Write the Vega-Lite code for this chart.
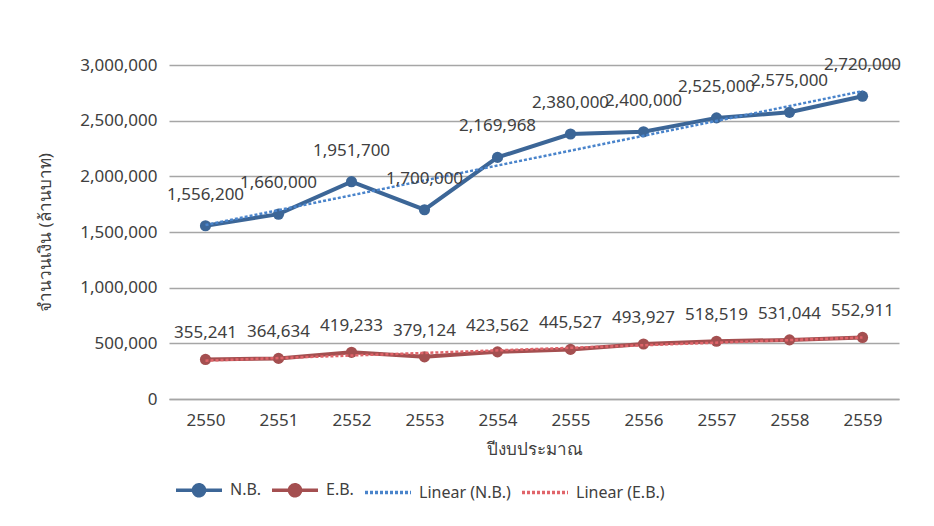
{
  "$schema": "https://vega.github.io/schema/vega-lite/v6.json",
  "width": 730,
  "height": 334,
  "autosize": "none",
  "padding": {"left": 169, "top": 65, "right": 35, "bottom": 127},
  "background": "white",
  "config": {
    "view": {"stroke": null},
    "font": "Noto Sans",
    "text": {"font": "Noto Sans"}
  },
  "data": {
    "values": [
      {"year": 2550, "series": "N.B.", "trend": "Linear (N.B.)", "value": 1556200},
      {"year": 2551, "series": "N.B.", "trend": "Linear (N.B.)", "value": 1660000},
      {"year": 2552, "series": "N.B.", "trend": "Linear (N.B.)", "value": 1951700},
      {"year": 2553, "series": "N.B.", "trend": "Linear (N.B.)", "value": 1700000},
      {"year": 2554, "series": "N.B.", "trend": "Linear (N.B.)", "value": 2169968},
      {"year": 2555, "series": "N.B.", "trend": "Linear (N.B.)", "value": 2380000},
      {"year": 2556, "series": "N.B.", "trend": "Linear (N.B.)", "value": 2400000},
      {"year": 2557, "series": "N.B.", "trend": "Linear (N.B.)", "value": 2525000},
      {"year": 2558, "series": "N.B.", "trend": "Linear (N.B.)", "value": 2575000},
      {"year": 2559, "series": "N.B.", "trend": "Linear (N.B.)", "value": 2720000},
      {"year": 2550, "series": "E.B.", "trend": "Linear (E.B.)", "value": 355241},
      {"year": 2551, "series": "E.B.", "trend": "Linear (E.B.)", "value": 364634},
      {"year": 2552, "series": "E.B.", "trend": "Linear (E.B.)", "value": 419233},
      {"year": 2553, "series": "E.B.", "trend": "Linear (E.B.)", "value": 379124},
      {"year": 2554, "series": "E.B.", "trend": "Linear (E.B.)", "value": 423562},
      {"year": 2555, "series": "E.B.", "trend": "Linear (E.B.)", "value": 445527},
      {"year": 2556, "series": "E.B.", "trend": "Linear (E.B.)", "value": 493927},
      {"year": 2557, "series": "E.B.", "trend": "Linear (E.B.)", "value": 518519},
      {"year": 2558, "series": "E.B.", "trend": "Linear (E.B.)", "value": 531044},
      {"year": 2559, "series": "E.B.", "trend": "Linear (E.B.)", "value": 552911}
    ]
  },
  "encoding": {
    "x": {
      "field": "year",
      "type": "quantitative",
      "scale": {"domain": [2549.5, 2559.5], "nice": false, "zero": false},
      "axis": {
        "title": "ปีงบประมาณ",
        "values": [2550, 2551, 2552, 2553, 2554, 2555, 2556, 2557, 2558, 2559],
        "format": "d",
        "grid": false,
        "ticks": false,
        "domain": true,
        "domainColor": "#a6a6a6",
        "domainWidth": 1.5,
        "labelFontSize": 17,
        "labelColor": "#404040",
        "labelPadding": 13,
        "labelFont": "Noto Sans",
        "titleFont": "Noto Sans",
        "titleFontSize": 17,
        "titleFontWeight": "normal",
        "titleColor": "#404040",
        "titleY": 50,
        "titleBaseline": "middle"
      }
    },
    "y": {
      "field": "value",
      "type": "quantitative",
      "scale": {"domain": [0, 3000000], "nice": false},
      "axis": {
        "title": "จำนวนเงิน (ล้านบาท)",
        "values": [0, 500000, 1000000, 1500000, 2000000, 2500000, 3000000],
        "format": ",d",
        "grid": true,
        "gridColor": "#a6a6a6",
        "gridWidth": 1.5,
        "ticks": false,
        "domain": false,
        "labelFontSize": 17,
        "labelColor": "#404040",
        "labelPadding": 12,
        "labelFont": "Noto Sans",
        "titleFont": "Noto Sans",
        "titleFontSize": 17,
        "titleFontWeight": "normal",
        "titleColor": "#404040",
        "titleX": -124,
        "titleY": 167,
        "titleAngle": -90,
        "titleBaseline": "middle",
        "titleAnchor": "middle"
      }
    }
  },
  "layer": [
    {
      "mark": {"type": "line", "strokeWidth": 4},
      "encoding": {
        "color": {
          "field": "series",
          "type": "nominal",
          "scale": {
            "domain": ["N.B.", "E.B.", "Linear (N.B.)", "Linear (E.B.)"],
            "range": ["#3c6697", "#a44f50", "#4a84cb", "#e0646a"]
          },
          "legend": {
            "title": null,
            "orient": "none",
            "legendX": 5,
            "legendY": 400,
            "direction": "horizontal",
            "symbolSize": 2116,
            "symbolStrokeWidth": 3.5,
            "labelFontSize": 16,
            "labelColor": "#404040",
            "labelFont": "Noto Sans",
            "labelOffset": 6,
            "columnPadding": 4,
            "encode": {
              "symbols": {
                "update": {
                  "shape": {"signal": "(datum.value == 'N.B.' || datum.value == 'E.B.') ? 'M-1,0H1M-0.24,0a0.24,0.24 0 1,0 0.48,0a0.24,0.24 0 1,0 -0.48,0' : 'stroke'"},
                  "strokeDash": {"signal": "(datum.value == 'N.B.' || datum.value == 'E.B.') ? [1,0] : [3,2]"},
                  "fill": {"signal": "(datum.value == 'N.B.' || datum.value == 'E.B.') ? scale('color', datum.value) : 'transparent'"},
                  "stroke": {"signal": "scale('color', datum.value)"},
                  "fillOpacity": {"value": 1},
                  "strokeWidth": {"value": 3.5}
                }
              }
            }
          }
        }
      }
    },
    {
      "mark": {"type": "point", "filled": true, "size": 125, "opacity": 1},
      "encoding": {
        "color": {"field": "series", "type": "nominal", "legend": null}
      }
    },
    {
      "transform": [
        {"regression": "value", "on": "year", "groupby": ["series", "trend"]}
      ],
      "mark": {"type": "line", "strokeWidth": 2.5, "strokeDash": [3, 2]},
      "encoding": {
        "color": {"field": "trend", "type": "nominal", "legend": null}
      }
    },
    {
      "transform": [{"filter": "datum.series == 'N.B.'"}],
      "mark": {"type": "text", "dy": -31, "fontSize": 17, "fill": "#404040", "baseline": "middle", "font": "Noto Sans"},
      "encoding": {
        "text": {"field": "value", "type": "quantitative", "format": ","}
      }
    },
    {
      "transform": [{"filter": "datum.series == 'E.B.'"}],
      "mark": {"type": "text", "dy": -26, "fontSize": 17, "fill": "#404040", "baseline": "middle", "font": "Noto Sans"},
      "encoding": {
        "text": {"field": "value", "type": "quantitative", "format": ","}
      }
    }
  ]
}
